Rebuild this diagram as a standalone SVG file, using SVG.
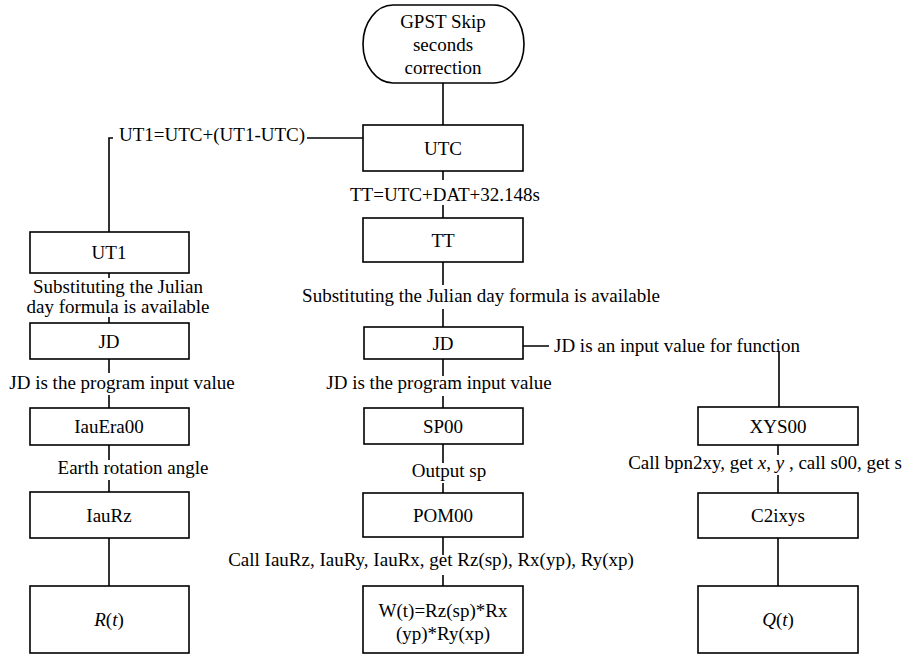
<svg xmlns="http://www.w3.org/2000/svg" width="906" height="656" viewBox="0 0 906 656">
  <style>
    .box { fill: #ffffff; stroke: #000000; stroke-width: 1.6; }
    .ln { fill: none; stroke: #000000; stroke-width: 1.6; }
    .t { font-family: "Liberation Serif", "Times New Roman", serif; font-size: 19px; fill: #000000; text-anchor: middle; }
    .ts { font-family: "Liberation Serif", "Times New Roman", serif; font-size: 19px; fill: #000000; }
    .gap { fill: #ffffff; stroke: none; }
  </style>
  <rect x="0" y="0" width="906" height="656" fill="#ffffff"/>

  <g id="connectors">
    <line class="ln" x1="443" y1="83" x2="443" y2="125"/>
    <path class="ln" d="M363,138 H109 V232"/>
    <line class="ln" x1="443" y1="171" x2="443" y2="218"/>
    <line class="ln" x1="443" y1="262" x2="443" y2="327"/>
    <path class="ln" d="M523,346 H779 V407"/>
    <line class="ln" x1="443" y1="359" x2="443" y2="408"/>
    <line class="ln" x1="443" y1="444" x2="443" y2="493"/>
    <line class="ln" x1="443" y1="537" x2="443" y2="586"/>
    <line class="ln" x1="109" y1="273" x2="109" y2="323"/>
    <line class="ln" x1="109" y1="359" x2="109" y2="408"/>
    <line class="ln" x1="109" y1="445" x2="109" y2="492"/>
    <line class="ln" x1="109" y1="538" x2="109" y2="586"/>
    <line class="ln" x1="778" y1="445" x2="778" y2="493"/>
    <line class="ln" x1="778" y1="538" x2="778" y2="586"/>
  </g>

  <g id="labels">
    <rect class="gap" x="113" y="124" width="194" height="24"/>
    <text class="ts" x="119" y="141">UT1=UTC+(UT1-UTC)</text>

    <rect class="gap" x="438" y="180" width="10" height="25"/>
    <text class="t" x="445" y="201">TT=UTC+DAT+32.148s</text>

    <rect class="gap" x="438" y="285" width="10" height="24"/>
    <text class="t" x="481" y="302">Substituting the Julian day formula is available</text>

    <rect class="gap" x="549" y="334" width="253" height="18"/>
    <text class="ts" x="554" y="352">JD is an input value for function</text>

    <rect class="gap" x="438" y="376" width="10" height="20"/>
    <text class="t" x="439" y="389">JD is the program input value</text>

    <rect class="gap" x="438" y="463" width="10" height="20"/>
    <text class="t" x="449" y="477">Output sp</text>

    <rect class="gap" x="438" y="555" width="10" height="20"/>
    <text class="t" x="431" y="566">Call IauRz, IauRy, IauRx, get Rz(sp), Rx(yp), Ry(xp)</text>

    <rect class="gap" x="104" y="278" width="10" height="39"/>
    <text class="t" x="118" y="293">Substituting the Julian</text>
    <text class="t" x="118" y="313">day formula is available</text>

    <rect class="gap" x="104" y="373" width="10" height="22"/>
    <text class="t" x="122" y="389">JD is the program input value</text>

    <rect class="gap" x="104" y="460" width="10" height="20"/>
    <text class="t" x="133" y="474">Earth rotation angle</text>

    <rect class="gap" x="773" y="455" width="10" height="20"/>
    <text class="t" x="765" y="469">Call bpn2xy, get <tspan font-style="italic">x</tspan>, <tspan font-style="italic">y</tspan> , call s00, get s</text>
  </g>

  <g id="node-start">
    <rect class="box" x="363" y="5" width="161" height="78" rx="30" ry="39"/>
    <text class="t" x="443" y="28">GPST Skip</text>
    <text class="t" x="443" y="51">seconds</text>
    <text class="t" x="443" y="74">correction</text>
  </g>
  <g id="node-utc">
    <rect class="box" x="363" y="125" width="160" height="46"/>
    <text class="t" x="443" y="155">UTC</text>
  </g>
  <g id="node-tt">
    <rect class="box" x="363" y="218" width="160" height="44"/>
    <text class="t" x="443" y="247">TT</text>
  </g>
  <g id="node-jd-mid">
    <rect class="box" x="364" y="327" width="159" height="32"/>
    <text class="t" x="443" y="350">JD</text>
  </g>
  <g id="node-sp00">
    <rect class="box" x="364" y="408" width="159" height="36"/>
    <text class="t" x="443" y="433">SP00</text>
  </g>
  <g id="node-pom00">
    <rect class="box" x="363" y="493" width="160" height="44"/>
    <text class="t" x="443" y="522">POM00</text>
  </g>
  <g id="node-w">
    <rect class="box" x="363" y="586" width="160" height="67"/>
    <text class="t" x="443" y="617">W(t)=Rz(sp)*Rx</text>
    <text class="t" x="443" y="640">(yp)*Ry(xp)</text>
  </g>

  <g id="node-ut1">
    <rect class="box" x="30" y="232" width="159" height="41"/>
    <text class="t" x="109" y="259">UT1</text>
  </g>
  <g id="node-jd-left">
    <rect class="box" x="30" y="323" width="159" height="36"/>
    <text class="t" x="109" y="348">JD</text>
  </g>
  <g id="node-iauera00">
    <rect class="box" x="30" y="408" width="159" height="37"/>
    <text class="t" x="109" y="433">IauEra00</text>
  </g>
  <g id="node-iaurz">
    <rect class="box" x="30" y="492" width="159" height="46"/>
    <text class="t" x="109" y="522">IauRz</text>
  </g>
  <g id="node-r">
    <rect class="box" x="30" y="586" width="159" height="67"/>
    <text class="t" x="109" y="626"><tspan font-style="italic">R</tspan>(<tspan font-style="italic">t</tspan>)</text>
  </g>

  <g id="node-xys00">
    <rect class="box" x="698" y="407" width="160" height="38"/>
    <text class="t" x="778" y="433">XYS00</text>
  </g>
  <g id="node-c2ixys">
    <rect class="box" x="698" y="493" width="160" height="45"/>
    <text class="t" x="778" y="522">C2ixys</text>
  </g>
  <g id="node-q">
    <rect class="box" x="698" y="586" width="160" height="67"/>
    <text class="t" x="778" y="626"><tspan font-style="italic">Q</tspan>(<tspan font-style="italic">t</tspan>)</text>
  </g>
</svg>
